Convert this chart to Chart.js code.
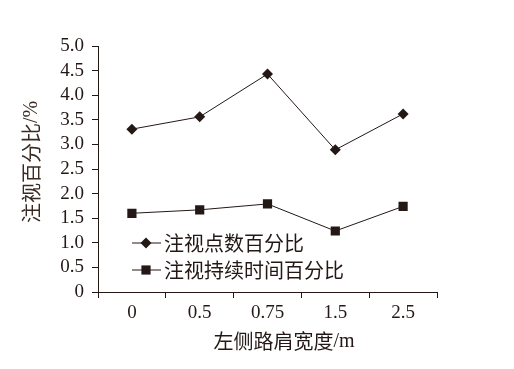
<!DOCTYPE html>
<html>
<head>
<meta charset="utf-8">
<script src="https://cdn.jsdelivr.net/npm/chart.js@4.4.1/dist/chart.umd.min.js"></script>
<style>
  html, body { margin: 0; padding: 0; background: #fff; }
  #wrap { width: 514px; height: 369px; }
</style>
</head>
<body>
<div id="wrap"><canvas id="c" width="514" height="369"></canvas></div>
<script>
const categories = ["0", "0.5", "0.75", "1.5", "2.5"];
const fixationCount = [3.31, 3.56, 4.43, 2.89, 3.62];
const fixationTime = [1.60, 1.67, 1.79, 1.24, 1.74];
const seriesNames = ["注视点数百分比", "注视持续时间百分比"];
const xTitle = ["左侧路肩宽度", "/m"];
const yTitle = ["注视百分比", "/%"];

const ink = "#231815";
const numFont = "'Liberation Serif', 'Times New Roman', serif";
const cjkFont = "'Noto Sans CJK SC', 'Liberation Serif', serif";

// draw a title made of a CJK part and a latin part, centred on (0,0)
function mixedText(ctx, parts, color) {
    ctx.fillStyle = color;
    ctx.textBaseline = "middle";
    ctx.textAlign = "left";
    const f1 = "20px " + cjkFont, f2 = "20px " + numFont;
    ctx.font = f1;
    const w1 = ctx.measureText(parts[0]).width;
    ctx.font = f2;
    const w2 = ctx.measureText(parts[1]).width;
    let x = -(w1 + w2) / 2;
    ctx.font = f1;
    ctx.fillText(parts[0], x, 0);
    ctx.font = f2;
    ctx.fillText(parts[1], x + w1, 1);
}

// legend and axis titles placed like in the original figure
const figureText = {
    id: "figureText",
    afterDraw(chart) {
        const ctx = chart.ctx;
        const area = chart.chartArea;
        const rows = [
            { ds: chart.data.datasets[0], y: area.top + 197 },
            { ds: chart.data.datasets[1], y: area.top + 224 }
        ];
        ctx.save();
        rows.forEach(r => {
            const x0 = area.left + 34;
            ctx.strokeStyle = ink;
            ctx.lineWidth = 1;
            ctx.beginPath();
            ctx.moveTo(x0, r.y);
            ctx.lineTo(x0 + 29, r.y);
            ctx.stroke();
            ctx.fillStyle = ink;
            Chart.helpers.drawPoint(ctx, {
                pointStyle: r.ds.pointStyle,
                radius: r.ds.pointRadius,
                rotation: 0,
                borderWidth: 0
            }, x0 + 14, r.y);
            ctx.fillStyle = ink;
            ctx.font = "20px " + cjkFont;
            ctx.textBaseline = "middle";
            ctx.textAlign = "left";
            ctx.fillText(r.ds.label, x0 + 32, r.y);
        });

        ctx.save();
        ctx.translate(area.left + 186, area.bottom + 49);
        mixedText(ctx, xTitle, ink);
        ctx.restore();

        ctx.save();
        ctx.translate(31, area.top + 116);
        ctx.rotate(-Math.PI / 2);
        mixedText(ctx, yTitle, "#3a2a22");
        ctx.restore();

        ctx.restore();
    }
};

new Chart(document.getElementById("c"), {
    type: "line",
    data: {
        labels: categories,
        datasets: [{
            label: seriesNames[0],
            data: fixationCount,
            borderColor: ink,
            backgroundColor: ink,
            borderWidth: 1,
            pointStyle: "rectRot",
            pointRadius: 5.5,
            pointBorderWidth: 0,
            tension: 0
        }, {
            label: seriesNames[1],
            data: fixationTime,
            borderColor: ink,
            backgroundColor: ink,
            borderWidth: 1,
            pointStyle: "rect",
            pointRadius: 6.5,
            pointBorderWidth: 0,
            tension: 0
        }]
    },
    options: {
        responsive: false,
        animation: false,
        layout: { padding: { top: 46, right: 77, left: 0, bottom: 0 } },
        plugins: {
            legend: { display: false },
            tooltip: { enabled: false }
        },
        scales: {
            x: {
                offset: true,
                grid: {
                    offset: true,
                    drawOnChartArea: false,
                    drawTicks: true,
                    tickLength: 6,
                    color: ink
                },
                border: { display: true, color: ink, width: 1 },
                ticks: {
                    color: ink,
                    font: { family: numFont, size: 19 },
                    padding: 4
                },
                afterFit(scale) { scale.height = 77; }
            },
            y: {
                min: 0,
                max: 5,
                grid: {
                    drawOnChartArea: false,
                    drawTicks: true,
                    tickLength: 6,
                    color: ink
                },
                border: { display: true, color: ink, width: 1 },
                ticks: {
                    stepSize: 0.5,
                    autoSkip: false,
                    color: ink,
                    font: { family: numFont, size: 19 },
                    padding: 8,
                    callback: v => v === 0 ? "0" : v.toFixed(1)
                },
                afterFit(scale) { scale.width = 98; }
            }
        }
    },
    plugins: [figureText]
});
</script>
</body>
</html>
